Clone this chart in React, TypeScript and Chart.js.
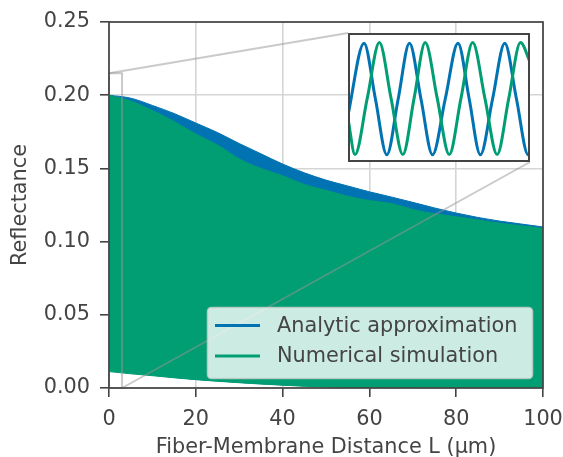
import React, { useEffect, useRef } from "react";
import { Chart, registerables } from "chart.js";

Chart.register(...registerables);

// ---------------- data ----------------
const DISTANCE_UM = [0, 5, 10, 15, 20, 25, 30, 35, 40, 45, 50, 55, 60, 65, 70, 75, 80, 85, 90, 95, 100];

// fringe envelopes (max / min of the oscillating reflectance)
const ANALYTIC_MAX = [0.2, 0.198, 0.193, 0.1875, 0.181, 0.1745, 0.167, 0.16, 0.153, 0.147, 0.142, 0.138, 0.134, 0.1305, 0.1268, 0.123, 0.1195, 0.1165, 0.114, 0.112, 0.11];
const ANALYTIC_MIN = [0.013, 0.0105, 0.0088, 0.0072, 0.0059, 0.0048, 0.0038, 0.0029, 0.0021, 0.0014, 0.0009, 0.0005, 0.0003, 0.0002, 0.0001, 0.0001, 0.0001, 0.0001, 0.0, 0.0, 0.0];
const NUMERIC_MAX = [0.2, 0.196, 0.1895, 0.182, 0.1735, 0.166, 0.1565, 0.15, 0.145, 0.139, 0.135, 0.131, 0.128, 0.126, 0.122, 0.119, 0.117, 0.1148, 0.1125, 0.1108, 0.109];
const NUMERIC_MIN = [0.0112, 0.0097, 0.0084, 0.007, 0.0057, 0.0046, 0.0036, 0.0027, 0.0019, 0.0012, 0.0007, 0.0004, 0.0002, 0.0001, 0.0, 0.0, 0.0, 0.0, 0.0, 0.0, 0.0];

// inset: first 3 µm, individual fringes
const INSET_ANALYTIC_L = [0, 0.264, 0.452, 0.64, 0.827, 1.013, 1.203, 1.393, 1.603, 1.813, 1.998, 2.182, 2.383, 2.584, 2.777, 2.97, 3.0];
const INSET_ANALYTIC_R = [0.078, 0.198, 0.105, 0.012, 0.105, 0.198, 0.105, 0.012, 0.105, 0.198, 0.105, 0.012, 0.105, 0.198, 0.105, 0.012, 0.0135];
const INSET_NUMERIC_L = [0, 0.116, 0.317, 0.517, 0.71, 0.904, 1.089, 1.273, 1.471, 1.669, 1.862, 2.055, 2.257, 2.458, 2.65, 2.843, 3.0];
const INSET_NUMERIC_R = [0.072, 0.0125, 0.106, 0.199, 0.106, 0.0125, 0.106, 0.199, 0.106, 0.0125, 0.106, 0.199, 0.106, 0.0125, 0.106, 0.199, 0.167];

const ZOOM_L = [0, 3];
const ZOOM_R = [0, 0.215];

const X_TICKS_STEP = 20;
const Y_TICKS_STEP = 0.05;

const SERIES_NAMES = ["Analytic approximation", "Numerical simulation"];
const X_TITLE = "Fiber-Membrane Distance L (µm)";
const Y_TITLE = "Reflectance";

// ---------------- style ----------------
const FONT = "'DejaVu Sans', sans-serif";
const FS = 20.8;
const TEXT = "#444444";
const BLUE = "#0173b2";
const GREEN = "#029e73";
const GRID = "#d5d5d5";
const W = 563;
const H = 457;
const INSET = { left: 348, top: 33, width: 182, height: 129 };

const pts = (xs: number[], ys: number[]) => xs.map((x, i) => ({ x, y: ys[i] }));

const overlayPlugin = {
  id: "overlay",
  afterDatasetsDraw(chart: any) {
    const { ctx, chartArea: a, scales } = chart;
    const xs = scales.x;
    const ys = scales.y;
    ctx.save();
    // zoom rectangle + connectors
    const x0 = xs.getPixelForValue(ZOOM_L[0]);
    const x1 = xs.getPixelForValue(ZOOM_L[1]);
    const y0 = ys.getPixelForValue(ZOOM_R[0]);
    const y1 = ys.getPixelForValue(ZOOM_R[1]);
    ctx.strokeStyle = "rgba(150,150,150,0.5)";
    ctx.lineWidth = 2;
    ctx.strokeRect(x0, y1, x1 - x0, y0 - y1);
    ctx.beginPath();
    ctx.moveTo(x0, y1);
    ctx.lineTo(INSET.left, INSET.top);
    ctx.moveTo(x1, y0);
    ctx.lineTo(INSET.left + INSET.width, INSET.top + INSET.height);
    ctx.stroke();
    // spines
    ctx.strokeStyle = TEXT;
    ctx.lineWidth = 1.7;
    ctx.strokeRect(a.left, a.top, a.right - a.left, a.bottom - a.top);
    // legend
    const lx = 207.5, ly = 307.5, lw = 325, lh = 71, r = 4;
    ctx.beginPath();
    ctx.moveTo(lx + r, ly);
    ctx.arcTo(lx + lw, ly, lx + lw, ly + lh, r);
    ctx.arcTo(lx + lw, ly + lh, lx, ly + lh, r);
    ctx.arcTo(lx, ly + lh, lx, ly, r);
    ctx.arcTo(lx, ly, lx + lw, ly, r);
    ctx.closePath();
    ctx.fillStyle = "rgba(255,255,255,0.8)";
    ctx.fill();
    ctx.strokeStyle = "rgba(204,204,204,0.8)";
    ctx.lineWidth = 1.6;
    ctx.stroke();
    const rows = [
      { y: 325.5, c: BLUE, t: SERIES_NAMES[0] },
      { y: 356, c: GREEN, t: SERIES_NAMES[1] },
    ];
    ctx.font = `${FS}px ${FONT}`;
    ctx.textBaseline = "middle";
    ctx.textAlign = "left";
    for (const row of rows) {
      ctx.strokeStyle = row.c;
      ctx.lineWidth = 3;
      ctx.beginPath();
      ctx.moveTo(215, row.y);
      ctx.lineTo(260, row.y);
      ctx.stroke();
      ctx.fillStyle = TEXT;
      ctx.fillText(row.t, 277, row.y + 1);
    }
    ctx.restore();
  },
};

const insetPlugin = {
  id: "insetFrame",
  beforeDraw(chart: any) {
    const { ctx, width, height } = chart;
    ctx.save();
    ctx.fillStyle = "#ffffff";
    ctx.fillRect(0, 0, width, height);
    ctx.restore();
  },
  afterDraw(chart: any) {
    const { ctx, width, height } = chart;
    ctx.save();
    ctx.strokeStyle = TEXT;
    ctx.lineWidth = 2;
    ctx.strokeRect(1, 1, width - 2, height - 2);
    ctx.restore();
  },
};

export default function App() {
  const mainRef = useRef<HTMLCanvasElement>(null);
  const insetRef = useRef<HTMLCanvasElement>(null);

  useEffect(() => {
    const line = { pointRadius: 0, borderWidth: 1, cubicInterpolationMode: "monotone" as const };
    const main = new Chart(mainRef.current as HTMLCanvasElement, {
      type: "line",
      data: {
        datasets: [
          { label: SERIES_NAMES[1], data: pts(DISTANCE_UM, NUMERIC_MAX), borderColor: GREEN, backgroundColor: GREEN, fill: 1, ...line },
          { label: "numMin", data: pts(DISTANCE_UM, NUMERIC_MIN), borderColor: GREEN, backgroundColor: GREEN, fill: false, ...line },
          { label: SERIES_NAMES[0], data: pts(DISTANCE_UM, ANALYTIC_MAX), borderColor: BLUE, backgroundColor: BLUE, fill: 3, ...line },
          { label: "anaMin", data: pts(DISTANCE_UM, ANALYTIC_MIN), borderColor: BLUE, backgroundColor: BLUE, fill: false, ...line },
        ],
      },
      options: {
        responsive: false,
        animation: false,
        devicePixelRatio: 1,
        layout: { padding: { left: 0, right: 20, top: 22, bottom: 0 }, autoPadding: false },
        plugins: { legend: { display: false }, tooltip: { enabled: false } },
        scales: {
          x: {
            type: "linear",
            min: 0,
            max: 100,
            afterFit: (s: any) => { s.height = 69; s.paddingLeft = 0; s.paddingRight = 0; },
            ticks: { stepSize: X_TICKS_STEP, color: TEXT, font: { family: FONT, size: FS }, padding: 10.5, maxRotation: 0 },
            grid: { color: GRID, lineWidth: 1.6, tickColor: TEXT, tickWidth: 1.6, tickLength: 9 },
            border: { display: false },
            title: { display: true, text: X_TITLE, color: TEXT, font: { family: FONT, size: FS }, padding: { top: 0, bottom: -3 } },
          },
          y: {
            type: "linear",
            min: 0,
            max: 0.25,
            afterFit: (s: any) => { s.width = 109; s.paddingTop = 0; s.paddingBottom = 0; },
            ticks: { stepSize: Y_TICKS_STEP, color: TEXT, font: { family: FONT, size: FS }, padding: 10, callback: (v: any) => Number(v).toFixed(2) },
            grid: { color: GRID, lineWidth: 1.6, tickColor: TEXT, tickWidth: 1.6, tickLength: 9 },
            border: { display: false },
            title: { display: true, text: Y_TITLE, color: TEXT, font: { family: FONT, size: FS }, padding: { top: 8, bottom: 0 } },
          },
        },
      },
      plugins: [overlayPlugin],
    } as any);

    const inset = new Chart(insetRef.current as HTMLCanvasElement, {
      type: "line",
      data: {
        datasets: [
          { label: SERIES_NAMES[1], data: pts(INSET_NUMERIC_L, INSET_NUMERIC_R), borderColor: GREEN, borderWidth: 3, pointRadius: 0, cubicInterpolationMode: "monotone", fill: false },
          { label: SERIES_NAMES[0], data: pts(INSET_ANALYTIC_L, INSET_ANALYTIC_R), borderColor: BLUE, borderWidth: 3, pointRadius: 0, cubicInterpolationMode: "monotone", fill: false },
        ],
      },
      options: {
        responsive: false,
        animation: false,
        devicePixelRatio: 1,
        layout: { padding: 0, autoPadding: false },
        plugins: { legend: { display: false }, tooltip: { enabled: false } },
        scales: {
          x: { type: "linear", min: ZOOM_L[0], max: ZOOM_L[1], display: false },
          y: { type: "linear", min: ZOOM_R[0], max: ZOOM_R[1], display: false },
        },
      },
      plugins: [insetPlugin],
    } as any);

    return () => {
      main.destroy();
      inset.destroy();
    };
  }, []);

  return (
    <div style={{ position: "fixed", left: 0, top: 0, width: W, height: H, background: "#fff" }}>
      <canvas ref={mainRef} width={W} height={H} style={{ position: "absolute", left: 0, top: 0, width: W, height: H }} />
      <canvas
        ref={insetRef}
        width={INSET.width}
        height={INSET.height}
        style={{ position: "absolute", left: INSET.left, top: INSET.top, width: INSET.width, height: INSET.height }}
      />
    </div>
  );
}
